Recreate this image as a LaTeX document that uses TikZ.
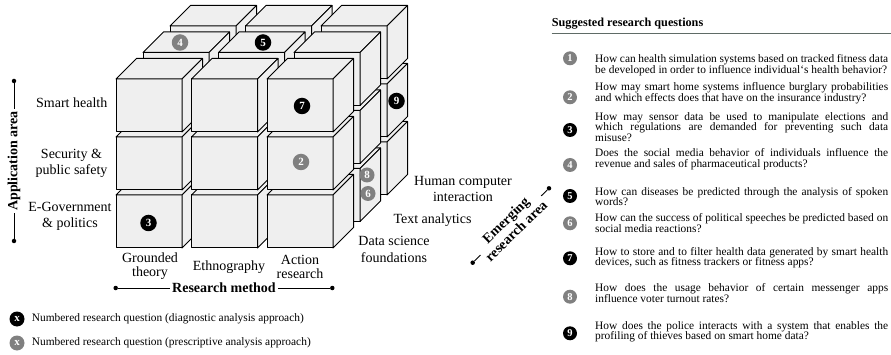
\documentclass[tikz,border=0pt]{standalone}
\usepackage{fontspec}
\setmainfont{Liberation Serif}
\definecolor{cubefill}{HTML}{EFEFEF}
\definecolor{badgegray}{HTML}{808080}
\definecolor{rulecol}{HTML}{5F6B66}
\newlength{\qwidth}\setlength{\qwidth}{293pt}
\newcommand{\jline}[1]{\makebox[\qwidth][s]{#1}}
\newcommand{\qpar}[1]{\parbox[t]{\qwidth}{\fontsize{11.4}{10.6}\selectfont #1}}
\tikzset{
 cubeface/.style={fill=cubefill, draw=black, line width=1pt, line join=round},
 badge/.style={circle, fill=black, text=white, inner sep=0pt, minimum size=16.5pt, font=\fontsize{11}{11}\selectfont\bfseries},
 gbadge/.style={badge, fill=badgegray},
 lbadge/.style={badge, minimum size=14pt, font=\fontsize{10.5}{10.5}\selectfont\bfseries},
 lgbadge/.style={lbadge, fill=badgegray},
 dimlabel/.style={align=center, font=\fontsize{14}{16}\selectfont, inner sep=0pt},
 axislabel/.style={font=\fontsize{14}{15}\selectfont\bfseries, fill=white, inner xsep=2pt, inner ysep=1pt},
 axisline/.style={line width=0.9pt},
 axisdot/.style={circle, fill=black, inner sep=0pt, minimum size=4.5pt},
 qtext/.style={anchor=base west, inner sep=0pt},
 legendtext/.style={anchor=west, inner sep=0pt, font=\fontsize{11.4}{13}\selectfont},
}
\begin{document}
\begin{tikzpicture}[x=1pt,y=-1pt]
\useasboundingbox (0,0) rectangle (891,355);
% cubes
\foreach \k in {2,1,0}{
 \foreach \r in {2,1,0}{
  \foreach \c in {0,1,2}{
   \pgfmathsetmacro{\cx}{116+75.5*\c+27*\k}
   \pgfmathsetmacro{\cy}{79+58*\r-26.5*\k}
   \filldraw[cubeface] (\cx,\cy) rectangle ++(66,53);
   \filldraw[cubeface] (\cx,\cy) -- ++(20.5,-20.5) -- ++(66,0) -- ++(-20.5,20.5) -- cycle;
   \filldraw[cubeface] (\cx+66,\cy) -- ++(20.5,-20.5) -- ++(0,53) -- ++(-20.5,20.5) -- cycle;
  }}}
% badges on cubes
\node[badge] (b7) at (302,106) {7};
\node[gbadge] (b2) at (301,162) {2};
\node[badge] (b3) at (148.5,223) {3};
\node[gbadge] (b4) at (180,42.5) {4};
\node[badge] (b5) at (263,42.5) {5};
\node[badge] (b9) at (396.5,101) {9};
\node[gbadge, minimum size=15pt] (b8) at (367,175) {8};
\node[gbadge, minimum size=15pt] (b6) at (368,193.5) {6};
% dimension labels
\node[dimlabel] (smart) at (71.7,102.7) {Smart health};
\node[dimlabel] (secur) at (71.5,163) {Security \&\\public safety};
\node[dimlabel] (egov) at (70,216) {E-Government\\\& politics};
\node[dimlabel] (gt) at (150,266) {Grounded\\[-2pt]theory};
\node[dimlabel] (eth) at (229,267) {Ethnography};
\node[dimlabel] (ar) at (300,267) {Action\\[-2pt]research};
\node[dimlabel] (dsf) at (394,249.5) {Data science\\[1.5pt]foundations};
\node[dimlabel] (ta) at (432.5,220) {Text analytics};
\node[dimlabel] (hci) at (463,188.7) {Human computer\\interaction};
% axes
\node[axisdot] (am1) at (14,81) {};
\node[axisdot] (am2) at (14,241) {};
\draw[axisline] (am1) -- node[axislabel, rotate=90] {Application area} (am2);
\node[axisdot] (rm1) at (115.7,288) {};
\node[axisdot] (rm2) at (332.3,288) {};
\draw[axisline] (rm1) -- node[axislabel] {Research method} (rm2);
\node[axisdot] (em1) at (472.7,262.7) {};
\node[axisdot] (em2) at (549,188.3) {};
\draw[axisline] (em1) -- node[axislabel, sloped, align=center] {Emerging\\research area} (em2);
% legend
\node[badge, minimum size=15pt] (lx1) at (17,319) {x};
\node[gbadge, minimum size=15pt] (lx2) at (17,343) {x};
\node[legendtext] (lt1) at (31.7,319) {Numbered research question (diagnostic analysis approach)};
\node[legendtext] (lt2) at (31.7,343) {Numbered research question (prescriptive analysis approach)};
% right panel
\node[anchor=west, inner sep=0pt, font=\fontsize{12.2}{14}\selectfont\bfseries] (head) at (551.7,24) {Suggested research questions};
\coordinate (rulel) at (551.7,33.3);
\coordinate (ruler) at (891,33.3);
\draw[rulecol, line width=1pt] (rulel) -- (ruler);
\node[lgbadge] (c1) at (570,58.3) {1};
\node[lgbadge] (c2) at (570,97.3) {2};
\node[lbadge] (c3) at (570,130) {3};
\node[lgbadge] (c4) at (570,165) {4};
\node[lbadge] (c5) at (570,196) {5};
\node[lgbadge] (c6) at (570,223.3) {6};
\node[lbadge] (c7) at (570,258.3) {7};
\node[lgbadge] (c8) at (570,296.7) {8};
\node[lbadge] (c9) at (570,333.3) {9};
\node[qtext] (q1) at (595,62.8) {\qpar{\jline{How can health simulation systems based on tracked fitness data}\\\mbox{be developed in order to influence individual`s health behavior?}}};
\node[qtext] (q2) at (595,90.8) {\qpar{\jline{How may smart home systems influence burglary probabilities}\\\mbox{and which effects does that have on the insurance industry?}}};
\node[qtext] (q3) at (595,120.2) {\qpar{\jline{How may sensor data be used to manipulate elections and}\\\jline{which regulations are demanded for preventing such data}\\\mbox{misuse?}}};
\node[qtext] (q4) at (595,156.8) {\qpar{\jline{Does the social media behavior of individuals influence the}\\\mbox{revenue and sales of pharmaceutical products?}}};
\node[qtext] (q5) at (595,195.2) {\qpar{\jline{How can diseases be predicted through the analysis of spoken}\\\mbox{words?}}};
\node[qtext] (q6) at (595,221.8) {\qpar{\jline{How can the success of political speeches be predicted based on}\\\mbox{social media reactions?}}};
\node[qtext] (q7) at (595,255.2) {\qpar{\jline{How to store and to filter health data generated by smart health}\\\mbox{devices, such as fitness trackers or fitness apps?}}};
\node[qtext] (q8) at (595,291.8) {\qpar{\jline{How does the usage behavior of certain messenger apps}\\\mbox{influence voter turnout rates?}}};
\node[qtext] (q9) at (595,329.2) {\qpar{\jline{How does the police interacts with a system that enables the}\\\mbox{profiling of thieves based on smart home data?}}};
\end{tikzpicture}
\end{document}
